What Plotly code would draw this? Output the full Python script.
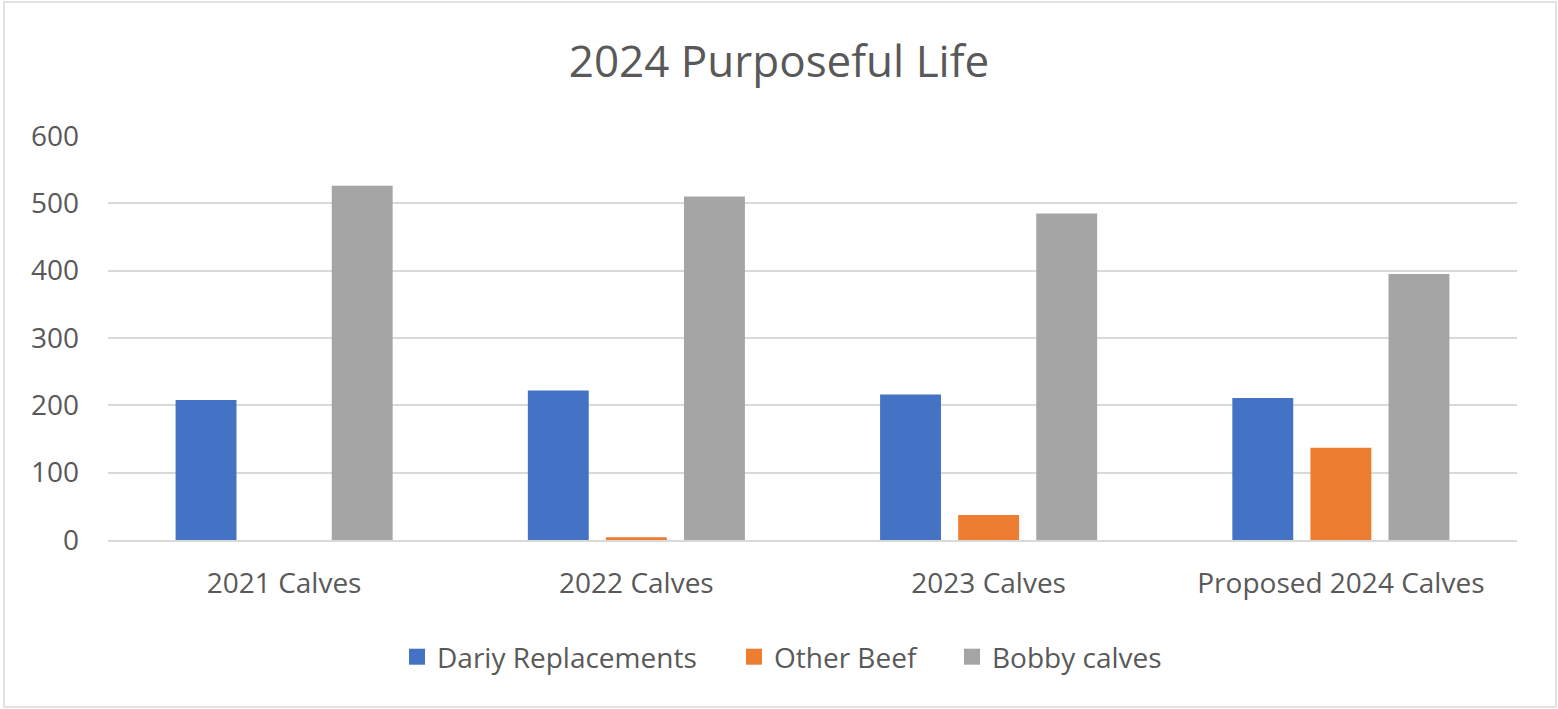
import plotly.graph_objects as go

categories = ["2021 Calves", "2022 Calves", "2023 Calves", "Proposed 2024 Calves"]
dairy_replacements = [208, 222, 216, 211]
other_beef = [0, 4, 37, 137]
bobby_calves = [526, 510, 485, 395]
series_names = ["Dariy Replacements", "Other Beef", "Bobby calves"]
colors = ["#4472C4", "#ED7D31", "#A5A5A5"]
y_ticks = [0, 100, 200, 300, 400, 500, 600]

W, H = 1558, 709
L, R, T, B = 108, 41, 136, 169
FONT = "Open Sans"
TXT = "#595959"
legend_ids = ["legend", "legend2", "legend3"]
legend_px = [397, 734, 952]

fig = go.Figure()
for name, vals, col, lid in zip(series_names, [dairy_replacements, other_beef, bobby_calves], colors, legend_ids):
    fig.add_trace(go.Bar(x=categories, y=vals, name=name, marker=dict(color=col, line=dict(width=0)),
                         showlegend=False))
    fig.add_trace(go.Scatter(x=[None], y=[None], mode="markers", name=name, legend=lid,
                             marker=dict(symbol="square", size=18, color=col), showlegend=True))

pw = W - L - R
ph = H - T - B
fig.add_shape(type="rect", xref="paper", yref="paper",
              x0=(4 - L) / pw, x1=(W - 2 - L) / pw,
              y0=-(707 - (H - B)) / ph, y1=((H - B) - 2) / ph,
              line=dict(color="#D9D9D9", width=1.5), fillcolor="rgba(0,0,0,0)", layer="below")

legend_common = dict(orientation="h", xref="container", xanchor="left",
                     y=1 - 657 / H, yref="container", yanchor="middle",
                     font=dict(family=FONT, size=28, color=TXT), itemsizing="trace",
                     bgcolor="rgba(0,0,0,0)")

fig.update_layout(
    width=W, height=H,
    margin=dict(l=L, r=R, t=T, b=B),
    paper_bgcolor="white", plot_bgcolor="white",
    barmode="group", bargap=0.335, bargroupgap=0.22,
    title=dict(text="2024 Purposeful Life", x=0.5, xref="container", xanchor="center",
               y=1 - 62 / H, yref="container", yanchor="middle",
               font=dict(family=FONT, size=44, color=TXT)),
    font=dict(family=FONT, size=28, color=TXT),
    legend=dict(x=legend_px[0] / W, **legend_common),
    legend2=dict(x=legend_px[1] / W, **legend_common),
    legend3=dict(x=legend_px[2] / W, **legend_common),
    xaxis=dict(showgrid=False, showline=True, linecolor="#D9D9D9", linewidth=2,
               tickfont=dict(family=FONT, size=28, color=TXT), ticks="", ticklabelstandoff=17),
    yaxis=dict(range=[0, 600], tickvals=y_ticks, showgrid=True, gridcolor="#D9D9D9", gridwidth=2,
               zeroline=False, showline=False, ticks="",
               tickfont=dict(family=FONT, size=28, color=TXT), ticklabelstandoff=28),
)

fig.write_html("out.html", config={"displayModeBar": False},
               post_script="document.body.style.margin='0px';")
